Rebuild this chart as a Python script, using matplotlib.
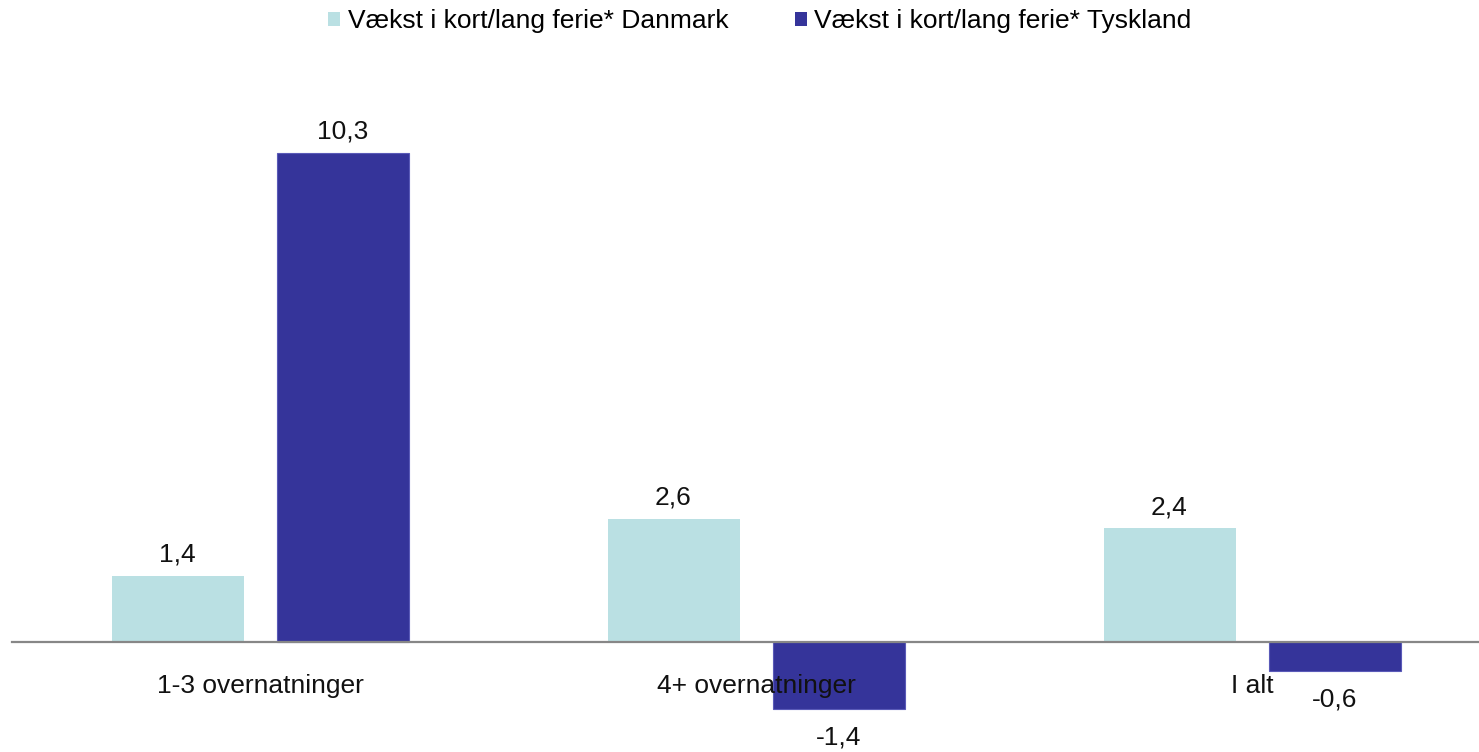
import matplotlib
matplotlib.use("Agg")
import matplotlib.pyplot as plt
import numpy as np
from matplotlib.patches import Patch

categories = ["1-3 overnatninger", "4+ overnatninger", "I alt"]
series_names = ["Vækst i kort/lang ferie* Danmark", "Vækst i kort/lang ferie* Tyskland"]
danmark = [1.4, 2.6, 2.4]
tyskland = [10.3, -1.4, -0.6]
colors = ["#BAE0E3", "#35349A"]

plt.rcParams['font.family'] = ['Liberation Sans', 'DejaVu Sans']
FS = 19

W, H = 1479, 752
fig = plt.figure(figsize=(W / 100, H / 100), dpi=100)

# axes geometry in pixels
group_px = 496.0
left_px = 12.0
base_px = 642.0
unit_px = 47.5
ymin, ymax = -2.2, 12.0
ax_bottom_px = base_px - ymin * unit_px   # from top
ax_top_px = base_px - ymax * unit_px
ax = fig.add_axes([left_px / W, (H - ax_bottom_px) / H, 3 * group_px / W, (ax_bottom_px - ax_top_px) / H])
ax.set_xlim(-0.5, 2.5)
ax.set_ylim(ymin, ymax)

x = np.arange(len(categories))
width = 132 / group_px
offset = 82.5 / group_px

b1 = ax.bar(x - offset, danmark, width, color=colors[0], zorder=1)
b2 = ax.bar(x + offset, tyskland, width, color=colors[1], edgecolor="#5a5ab8", linewidth=0.8, zorder=1)

for bars, vals in ((b1, danmark), (b2, tyskland)):
    for rect, v in zip(bars, vals):
        cx = rect.get_x() + rect.get_width() / 2
        label = f"{v:.1f}".replace(".", ",")
        if v >= 0:
            ax.annotate(label, (cx, v), xytext=(0, 9), textcoords="offset pixels",
                        ha="center", va="bottom", fontsize=FS, color="#111111")
        else:
            ax.annotate(label, (cx, v), xytext=(0, -17), textcoords="offset pixels",
                        ha="center", va="top", fontsize=FS, color="#111111")

for s in ["top", "right", "left"]:
    ax.spines[s].set_visible(False)
ax.spines["bottom"].set_position(("data", 0))
ax.spines["bottom"].set_color("#878787")
ax.spines["bottom"].set_linewidth(1.6)
ax.spines["bottom"].set_zorder(2)
ax.set_yticks([])
ax.set_xticks(x)
ax.set_xticklabels(categories, fontsize=FS, color="#111111")
ax.tick_params(axis="x", length=0, pad=23)

handles = [Patch(facecolor=colors[0]), Patch(facecolor=colors[1])]
fig.legend(handles, series_names, loc="center", bbox_to_anchor=(760 / W, 1 - 21 / H),
           ncol=2, frameon=False, fontsize=FS, handlelength=0.45, handleheight=0.45,
           handletextpad=0.3, columnspacing=2.5)

fig.savefig("out.png", dpi=100)
